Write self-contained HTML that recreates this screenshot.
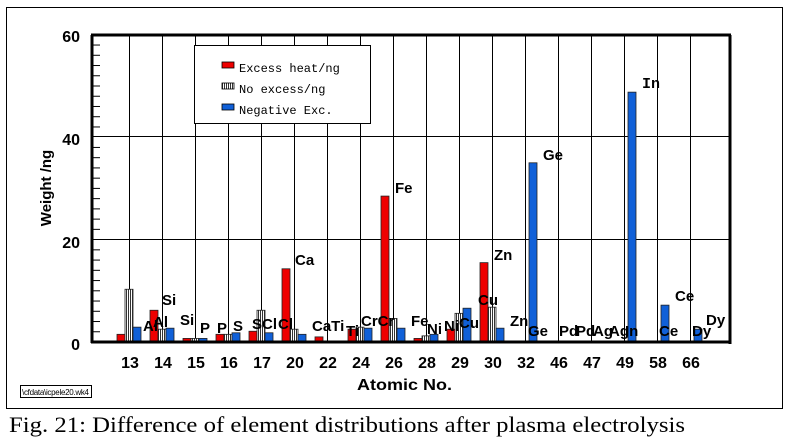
<!DOCTYPE html>
<html><head><meta charset="utf-8"><style>
html,body{margin:0;padding:0;background:#fff;width:790px;height:440px;overflow:hidden}
svg{display:block}
</style></head><body>
<svg width="790" height="440" viewBox="0 0 790 440" xmlns="http://www.w3.org/2000/svg">
<defs>
<pattern id="h" width="2" height="4" patternUnits="userSpaceOnUse"><rect width="2" height="4" fill="#fff"/><rect width="1" height="4" fill="#333"/></pattern>
</defs>
<rect x="6.5" y="7.5" width="776" height="401" fill="#fff" stroke="#000" stroke-width="1"/>
<g stroke="#000" stroke-width="1">
<line x1="92" y1="136.5" x2="730" y2="136.5"/>
<line x1="92" y1="239.5" x2="730" y2="239.5"/>
</g>
<g id="vg" stroke="#000" stroke-width="1"></g>
<g id="ticks" stroke="#000" stroke-width="1"></g>
<g id="bars"></g>
<g font-family="Liberation Sans, sans-serif" font-weight="bold" font-size="15" fill="#000" id="lbl">
<text x="143" y="331">Al</text><text x="153" y="327">Al</text>
<text x="162" y="305">Si</text><text x="180" y="325">Si</text>
<text x="200" y="333">P</text><text x="217" y="333">P</text>
<text x="233" y="331">S</text><text x="252" y="329">SCl</text>
<text x="278" y="329">Cl</text><text x="295" y="265">Ca</text>
<text x="312" y="331">CaTi</text><text x="346" y="336">Ti</text>
<text x="361" y="326">CrCr</text><text x="395" y="193">Fe</text>
<text x="411" y="326">Fe</text><text x="427" y="334">Ni</text>
<text x="444" y="331">Ni</text><text x="459" y="328">Cu</text>
<text x="478" y="305">Cu</text><text x="494" y="260">Zn</text>
<text x="510" y="326">Zn</text><text x="528" y="336">Ge</text>
<text x="543" y="160">Ge</text><text x="559" y="336">Pd</text>
<text x="576" y="336">Pd</text><text x="593" y="336">Ag</text>
<text x="609" y="336">Ag</text><text x="625" y="336">In</text>
<text x="642" y="88" font-family="Liberation Mono, monospace">In</text>
<text x="659" y="336">Ce</text><text x="675" y="301">Ce</text>
<text x="692" y="336">Dy</text><text x="706" y="325">Dy</text>
</g>
<g font-family="Liberation Sans, sans-serif" font-weight="bold" font-size="16" fill="#000" text-anchor="end">
<text x="80" y="42">60</text><text x="80" y="145">40</text><text x="80" y="248">20</text><text x="80" y="350">0</text>
</g>
<text transform="translate(51,188) rotate(-90)" text-anchor="middle" font-family="Liberation Sans, sans-serif" font-weight="bold" font-size="15">Weight /ng</text>
<g id="xl" font-family="Liberation Sans, sans-serif" font-weight="bold" font-size="16" text-anchor="middle"></g>
<text x="357" y="390" font-family="Liberation Sans, sans-serif" font-weight="bold" font-size="16" textLength="95" lengthAdjust="spacingAndGlyphs">Atomic No.</text>
<rect x="20.5" y="385.5" width="71" height="12" fill="#fff" stroke="#000"/>
<text x="22" y="395" font-family="Liberation Sans, sans-serif" font-size="8" textLength="67">\cfdata\icpele20.wk4</text>
<rect x="194.5" y="45.5" width="176" height="78" fill="#fff" stroke="#000"/>
<rect x="222" y="62" width="12" height="6" fill="#e00" stroke="#000" stroke-width="0.8"/>
<rect x="222" y="83" width="12" height="6" fill="url(#h)" stroke="#000" stroke-width="0.8"/>
<rect x="222" y="104" width="12" height="6" fill="#1060d8" stroke="#000" stroke-width="0.8"/>
<g font-family="Liberation Mono, monospace" font-size="12" fill="#000">
<text x="239" y="72">Excess heat/ng</text>
<text x="239" y="93">No excess/ng</text>
<text x="239" y="114">Negative Exc.</text>
</g>
<line x1="92" y1="35" x2="92" y2="343" stroke="#000" stroke-width="3"/>
<line x1="91" y1="35" x2="731" y2="35" stroke="#000" stroke-width="3"/>
<line x1="730" y1="35" x2="730" y2="344" stroke="#000" stroke-width="3"/>
<line x1="91" y1="342" x2="731" y2="342" stroke="#000" stroke-width="3"/>
<text x="9" y="432" font-family="Liberation Serif, serif" font-size="22" textLength="676" lengthAdjust="spacingAndGlyphs">Fig. 21: Difference of element distributions after plasma electrolysis</text>
<script>
var ns="http://www.w3.org/2000/svg";
function el(p,t,a){var e=document.createElementNS(ns,t);for(var k in a)e.setAttribute(k,a[k]);p.appendChild(e);return e;}
var vg=document.getElementById('vg'),tk=document.getElementById('ticks'),bs=document.getElementById('bars'),xl=document.getElementById('xl');
var labs=[13,14,15,16,17,20,22,24,26,28,29,30,32,46,47,49,58,66];
var d=[[1.5,10.3,2.9],[6.2,2.5,2.7],[0.7,0.7,0.7],[1.5,1.5,1.8],[2.1,6.2,1.8],[14.3,2.5,1.5],[1,0,0],[2.5,2.9,2.7],[28.5,4.6,2.7],[0.7,1.2,1.5],[2.5,5.6,6.6],[15.5,6.8,2.7],[0,0,35],[0,0,0],[0,0,0],[0,0,48.8],[0,0,7.2],[0,0,2.5]];
var cols=['#e00','url(#h)','#1060d8'];
for(var i=0;i<18;i++){var g=129+33*i;
el(vg,'line',{x1:g+.5,y1:35,x2:g+.5,y2:342});
var t=el(xl,'text',{x:g+1,y:368});t.textContent=labs[i];
for(var j=0;j<3;j++){var v=d[i][j];if(v<=0)continue;var h=v*5.12;
el(bs,'rect',{x:g-12+8*j,y:342-h,width:8,height:h,fill:cols[j],stroke:'#222','stroke-width':0.8});}}
for(var k=1;k<30;k++){if(k%10==0)continue;var y=342-k*2*5.12;el(tk,'line',{x1:92,y1:y,x2:100,y2:y});}
</script>
</svg>
</body></html>
